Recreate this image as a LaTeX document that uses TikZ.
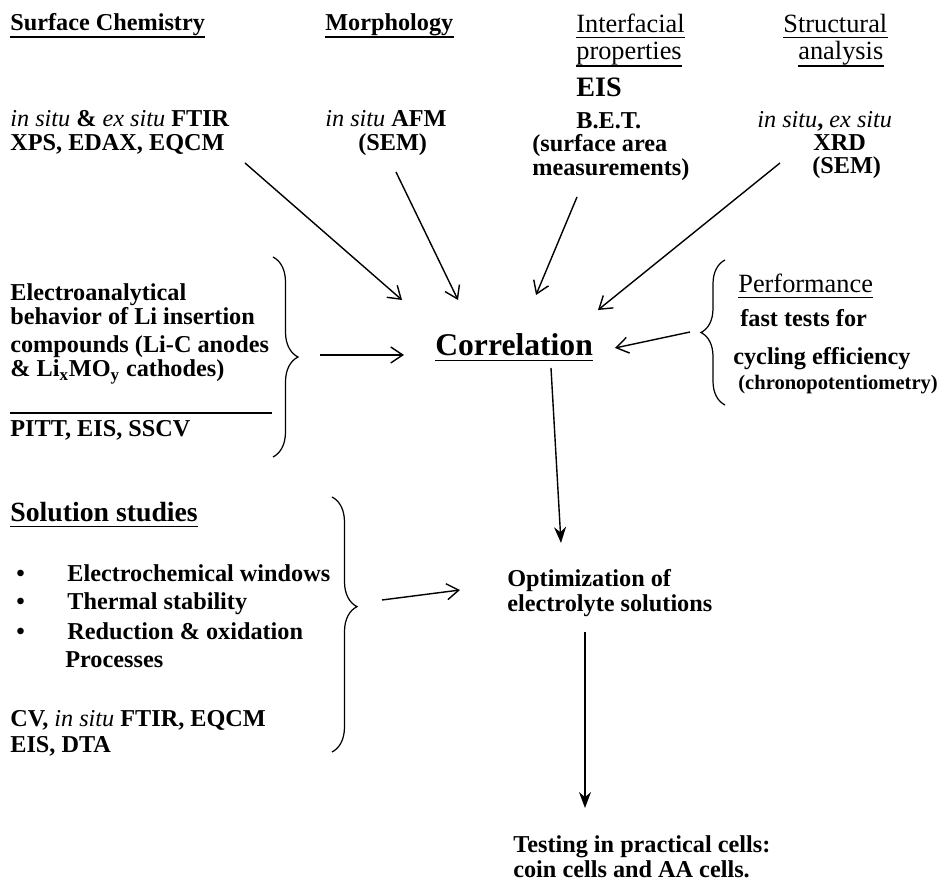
\documentclass[tikz,border=0pt]{standalone}
\usepackage{fontspec}
\setmainfont{Liberation Serif}
\usetikzlibrary{arrows.meta,decorations.pathreplacing}
\newcommand{\mdit}[1]{\textmd{\textit{#1}}}

\tikzset{
  txt/.style={anchor=base west, inner sep=0pt, font=\bfseries\fontsize{13.8}{14}\selectfont},
  thin/.style={anchor=base west, inner sep=0pt, font=\fontsize{15}{16}\selectfont},
  ul/.style={append after command={([yshift=-#1]\tikzlastnode.base west) edge[draw, line width=0.9pt] ([yshift=-#1]\tikzlastnode.base east)}},
  ul/.default=3.5pt,
  arr/.style={line width=0.8pt, -{Straight Barb[length=2.4mm,width=3.2mm]}},
  farr/.style={line width=0.8pt, -{Stealth[length=3.2mm,width=2.4mm]}},
  brc/.style={line width=0.7pt, decorate}
}

\begin{document}
\begin{tikzpicture}[x=0.02cm, y=-0.02cm]
	\useasboundingbox (0,0) rectangle (938,895);
	
	% top row of methods
	\node[txt, ul] (chem) at (10,31) {Surface Chemistry};
	\node[txt] (chem1) at (10,127) {\mdit{in situ} \& \mdit{ex situ} FTIR};
	\node[txt] (chem2) at (10,151) {XPS, EDAX, EQCM};
	
	\node[txt, ul] (morph) at (325,31) {Morphology};
	\node[txt] (morph1) at (325,127) {\mdit{in situ} AFM};
	\node[txt] (morph2) at (358,151) {(SEM)};
	
	\node[thin, ul=2.5pt] (intf) at (576,33) {Interfacial};
	\node[thin, ul] (intf1) at (576,60) {properties};
	\node[txt, font=\bfseries\fontsize{16}{16}\selectfont] (intf2) at (576,97) {EIS};
	\node[txt] (intf3) at (576,129) {B.E.T.};
	\node[txt] (intf4) at (532,152) {(surface area};
	\node[txt] (intf5) at (532,176) {measurements)};
	
	\node[thin, ul=2.5pt] (struc) at (783,33) {Structural};
	\node[thin, ul] (struc1) at (798,60) {analysis};
	\node[txt] (struc2) at (757,128) {\mdit{in situ}, \mdit{ex situ}};
	\node[txt] (struc3) at (813,151) {XRD};
	\node[txt] (struc4) at (812,174) {(SEM)};
	
	% centre
	\node[txt, ul=2.5pt, font=\bfseries\fontsize{18}{18}\selectfont] (corr) at (435,356) {Correlation};
	
	% electroanalytical block
	\node[txt] (elec) at (10,301) {Electroanalytical};
	\node[txt] (elec1) at (10,325) {behavior of Li insertion};
	\node[txt] (elec2) at (10,353) {compounds (Li-C anodes};
	\node[txt] (elec3) at (10,377) {\& Li\textsubscript{x}MO\textsubscript{y} cathodes)};
	\node[txt] (elec4) at (10,437) {PITT, EIS, SSCV};
	\draw[line width=0.6pt] (10,413) -- (272,413);
	\draw[brc, decoration={brace, amplitude=0.5cm}] (273,257) -- (273,457);
	
	% performance block
	\node[thin, ul=2.5pt] (perf) at (738,293) {Performance};
	\node[txt] (perf1) at (740,327) {fast tests for};
	\node[txt] (perf2) at (733,365) {cycling efficiency};
	\node[txt, font=\bfseries\fontsize{11.7}{12}\selectfont] (perf3) at (738,390) {(chronopotentiometry)};
	\draw[brc, decoration={brace, amplitude=0.48cm}] (725,405) -- (725,260);
	
	% solution block
	\node[txt, ul=2.5pt, font=\bfseries\fontsize{15.8}{16}\selectfont] (sol) at (10,522) {Solution studies};
	\node[txt] (dot1) at (16,582) {\textbullet};
	\node[txt] (dot2) at (16,610) {\textbullet};
	\node[txt] (dot3) at (16,640) {\textbullet};
	\node[txt] (sol1) at (67,582) {Electrochemical windows};
	\node[txt] (sol2) at (67,610) {Thermal stability};
	\node[txt] (sol3) at (67,640) {Reduction \& oxidation};
	\node[txt] (sol4) at (65,668) {Processes};
	\node[txt] (sol5) at (10,727) {CV, \mdit{in situ} FTIR, EQCM};
	\node[txt] (sol6) at (10,753) {EIS, DTA};
	\draw[brc, decoration={brace, amplitude=0.5cm, aspect=0.43}] (332,497) -- (332,752);
	
	% results
	\node[txt] (opt) at (507,587) {Optimization of};
	\node[txt] (opt1) at (507,612) {electrolyte solutions};
	\node[txt] (test) at (513,852) {Testing in practical cells:};
	\node[txt] (test1) at (513,878) {coin cells and AA cells.};
	
	% arrow ends
	\coordinate (chem-out) at (245,163);
	\coordinate (chem-in) at (402,300);
	\coordinate (morph-out) at (396,172);
	\coordinate (morph-in) at (458,300);
	\coordinate (intf-out) at (577,197);
	\coordinate (intf-in) at (536,295);
	\coordinate (struc-out) at (780,163);
	\coordinate (struc-in) at (598,310);
	\coordinate (elec-out) at (320,355);
	\coordinate (elec-in) at (404,355);
	\coordinate (perf-out) at (690,332);
	\coordinate (perf-in) at (615,348);
	\coordinate (corr-out) at (551,368);
	\coordinate (opt-in) at (561,543);
	\coordinate (sol-out) at (382,600);
	\coordinate (sol-in) at (460,590);
	\coordinate (opt-out) at (585,632);
	\coordinate (test-in) at (585,808);
	
	\draw[arr] (chem-out) -- (chem-in);
	\draw[arr] (morph-out) -- (morph-in);
	\draw[arr] (intf-out) -- (intf-in);
	\draw[arr] (struc-out) -- (struc-in);
	\draw[arr] (elec-out) -- (elec-in);
	\draw[arr] (perf-out) -- (perf-in);
	\draw[farr] (corr-out) -- (opt-in);
	\draw[arr] (sol-out) -- (sol-in);
	\draw[farr] (opt-out) -- (test-in);
\end{tikzpicture}
\end{document}
